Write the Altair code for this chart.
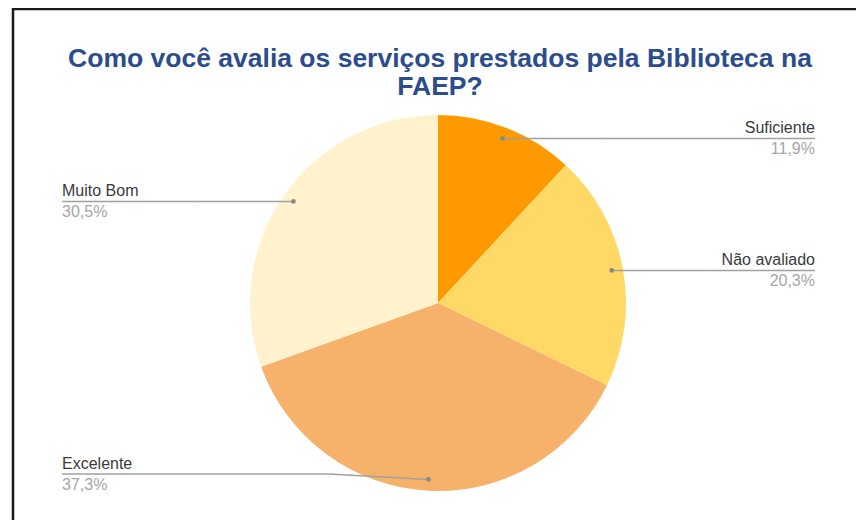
import altair as alt
import pandas as pd

# ---- data ----
categorias = ["Suficiente", "Não avaliado", "Excelente", "Muito Bom"]
percentuais = [11.9, 20.3, 37.3, 30.5]
rotulos = ["11,9%", "20,3%", "37,3%", "30,5%"]
cores = ["#ff9900", "#ffd966", "#f6b26b", "#fff2cc"]
titulo = ["Como você avalia os serviços prestados pela Biblioteca na", "FAEP?"]

df = pd.DataFrame({"cat": categorias, "val": percentuais, "lab": rotulos,
                   "ord": list(range(len(categorias)))})
df_title = pd.DataFrame({"t": titulo, "i": list(range(len(titulo)))})

# ---- layout (pixels in view) ----
W, H = 848, 512
CX, CY, R = 430, 295, 188
LEFT_X, RIGHT_X = 54, 807
BOTTOM_LIMIT = 466
FONT = "Liberation Sans"

frame = alt.Chart(pd.DataFrame({"a": [0]})).mark_rect(
    fill="white", stroke="#1a1a1a", strokeWidth=2.5
).encode(x=alt.value(5), y=alt.value(1), x2=alt.value(W + 30), y2=alt.value(H + 30))

pie = alt.Chart(df).mark_arc(outerRadius=R).encode(
    theta=alt.Theta("val:Q", stack=True),
    order=alt.Order("ord:Q"),
    color=alt.Color("cat:N", scale=alt.Scale(domain=categorias, range=cores), legend=None),
    x=alt.value(CX), y=alt.value(CY),
)

geo = alt.Chart(df).transform_joinaggregate(total="sum(val)").transform_window(
    cum="sum(val)", sort=[alt.SortField("ord")], frame=[None, 0]
).transform_calculate(
    ang="2*PI*(datum.cum - datum.val/2)/datum.total",
).transform_calculate(
    ax=f"{CX} + {0.94 * R}*sin(datum.ang)",
    ay=f"{CY} - {0.94 * R}*cos(datum.ang)",
    right="sin(datum.ang) > 0",
).transform_calculate(
    ly=f"min(datum.ay, {BOTTOM_LIMIT})",
    lx=f"datum.right ? {RIGHT_X} : {LEFT_X}",
    bx="datum.right ? datum.ax + 100 : datum.ax - 100",
)

line_style = dict(color="#a0a0a0", strokeWidth=1.5)
rule1 = geo.mark_rule(**line_style).encode(
    x=alt.X("lx:Q", scale=None), x2="bx:Q",
    y=alt.Y("ly:Q", scale=None), y2="ly:Q",
)
rule2 = geo.mark_rule(**line_style).encode(
    x=alt.X("bx:Q", scale=None), x2="ax:Q",
    y=alt.Y("ly:Q", scale=None), y2="ay:Q",
)
dots = geo.mark_circle(size=22, color="#888888", opacity=1).encode(
    x=alt.X("ax:Q", scale=None), y=alt.Y("ay:Q", scale=None)
)

def labels(side, align):
    g = geo.transform_filter(f"datum.right == {side}")
    name = g.mark_text(align=align, baseline="bottom", dy=-2, font=FONT,
                       fontSize=16, color="#3a3a3a").encode(
        x=alt.X("lx:Q", scale=None), y=alt.Y("ly:Q", scale=None), text="cat:N")
    pct = g.mark_text(align=align, baseline="top", dy=3, font=FONT,
                      fontSize=16, color="#a6a6a6").encode(
        x=alt.X("lx:Q", scale=None), y=alt.Y("ly:Q", scale=None), text="lab:N")
    return name + pct

title = alt.Chart(df_title).transform_calculate(
    ty="51 + 28*datum.i"
).mark_text(align="center", baseline="middle", font=FONT, fontSize=26.5,
            fontWeight="bold", color="#2c4d8c").encode(
    x=alt.value(432), y=alt.Y("ty:Q", scale=None), text="t:N")

chart = alt.layer(
    frame, pie, rule1, rule2, dots, labels("true", "right"), labels("false", "left"), title
).properties(
    width=W, height=H, autosize="none", padding=0, background="white"
).configure_view(stroke=None)

chart.save("out.html", embed_options={"renderer": "svg", "actions": False})
